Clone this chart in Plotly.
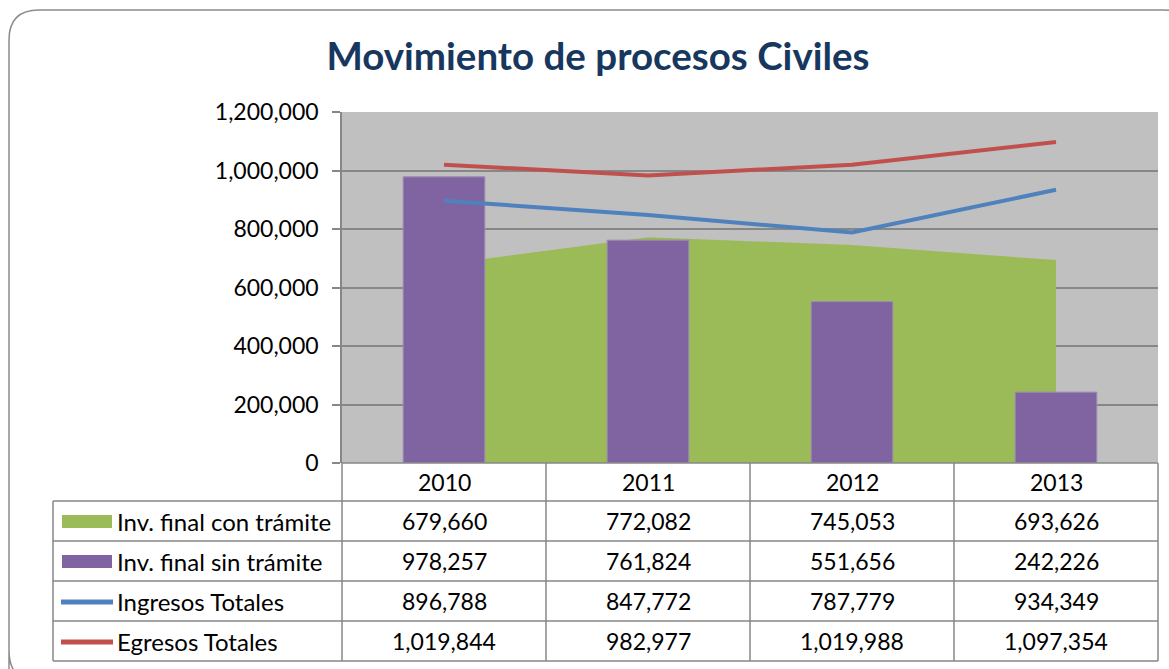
import plotly.graph_objects as go

years = ["2010", "2011", "2012", "2013"]
series_names = ["Inv. final con trámite", "Inv. final sin trámite", "Ingresos Totales", "Egresos Totales"]
inv_con_tramite = [679660, 772082, 745053, 693626]
inv_sin_tramite = [978257, 761824, 551656, 242226]
ingresos_totales = [896788, 847772, 787779, 934349]
egresos_totales = [1019844, 982977, 1019988, 1097354]
y_ticks = [0, 200000, 400000, 600000, 800000, 1000000, 1200000]

GREEN = "#9BBB59"
PURPLE = "#8064A2"
BLUE = "#4F81BD"
RED = "#C0504D"
GRID = "#878787"
FONT = "Lato"

# plot area in pixels
X0, X1 = 342, 1158
YT, YB = 112, 463
W, H = X1 - X0, YB - YT


def fx(px):
    return (px - X0) / W


def fy(py):
    return (YB - py) / H


fig = go.Figure()

# area (base subplot)
fig.add_trace(go.Scatter(x=years, y=inv_con_tramite, mode="none", fill="tozeroy",
                         fillcolor=GREEN, name=series_names[0], hoverinfo="skip",
                         xaxis="x", yaxis="y"))
# bars (overlay 1)
fig.add_trace(go.Bar(x=years, y=inv_sin_tramite, width=0.4, marker_color=PURPLE,
                     marker_line=dict(color="#9A8AAE", width=1),
                     name=series_names[1], hoverinfo="skip", xaxis="x2", yaxis="y2"))
# lines (overlay 2)
fig.add_trace(go.Scatter(x=years, y=ingresos_totales, mode="lines",
                         line=dict(color=BLUE, width=4), name=series_names[2],
                         hoverinfo="skip", xaxis="x3", yaxis="y3"))
fig.add_trace(go.Scatter(x=years, y=egresos_totales, mode="lines",
                         line=dict(color=RED, width=4), name=series_names[3],
                         hoverinfo="skip", xaxis="x3", yaxis="y3"))

xcommon = dict(type="category", categoryorder="array", categoryarray=years,
               range=[-0.5, 3.5], showticklabels=False, showgrid=False,
               zeroline=False, showline=False, fixedrange=True)
ycommon = dict(range=[0, 1200000], fixedrange=True, zeroline=False)

fig.update_layout(
    width=1169, height=669,
    margin=dict(l=X0, r=1169 - X1, t=YT, b=669 - YB, autoexpand=False),
    paper_bgcolor="white",
    plot_bgcolor="#C0C0C0",
    showlegend=False,
    font=dict(family=FONT, color="black", size=23),
    xaxis=xcommon,
    xaxis2=dict(**xcommon, overlaying="x", matches="x"),
    xaxis3=dict(**xcommon, overlaying="x", matches="x"),
    yaxis=dict(**ycommon, tickvals=y_ticks,
               ticktext=[f"{v:,}" for v in y_ticks],
               showgrid=True, gridcolor=GRID, gridwidth=1.5,
               showline=True, linecolor=GRID, linewidth=1.5,
               ticks="outside", ticklen=8, tickcolor=GRID, tickwidth=1.5,
               ticklabelstandoff=9,
               tickfont=dict(family=FONT, size=23, color="black")),
    yaxis2=dict(**ycommon, overlaying="y", showgrid=False, showticklabels=False, showline=False),
    yaxis3=dict(**ycommon, overlaying="y", showgrid=False, showticklabels=False, showline=False),
    title=dict(text="<b>Movimiento de procesos Civiles</b>", xref="container", yref="container",
               x=598 / 1169, y=1 - 57 / 669, xanchor="center", yanchor="middle",
               font=dict(family=FONT, size=38.5, color="#17375E")),
)

shapes = []
# outer rounded border
path = (f"M {fx(9)},{fy(700)} L {fx(9)},{fy(40)} Q {fx(9)},{fy(10)} {fx(39)},{fy(10)} "
        f"L {fx(1163)},{fy(10)} Q {fx(1193)},{fy(10)} {fx(1193)},{fy(40)} "
        f"L {fx(1193)},{fy(650)} Q {fx(1193)},{fy(682)} {fx(1163)},{fy(682)} "
        f"L {fx(39)},{fy(682)} Q {fx(9)},{fy(682)} {fx(9)},{fy(650)} Z")
shapes.append(dict(type="path", xref="paper", yref="paper", path=path,
                   line=dict(color="#8C8C8C", width=1.5), layer="below"))

line_style = dict(color=GRID, width=1.5)
row_edges = [501, 541, 581, 621, 661]
# horizontal lines of the data table
shapes.append(dict(type="line", xref="paper", yref="paper", x0=fx(X0), x1=fx(X1),
                   y0=fy(YB), y1=fy(YB), line=line_style))
for ry in row_edges:
    shapes.append(dict(type="line", xref="paper", yref="paper", x0=fx(53), x1=fx(X1),
                       y0=fy(ry), y1=fy(ry), line=line_style))
# vertical lines
shapes.append(dict(type="line", xref="paper", yref="paper", x0=fx(53), x1=fx(53),
                   y0=fy(501), y1=fy(661), line=line_style))
col_w = W / len(years)
for i in range(len(years) + 1):
    vx = X0 + i * col_w
    shapes.append(dict(type="line", xref="paper", yref="paper", x0=fx(vx), x1=fx(vx),
                       y0=fy(YB), y1=fy(661), line=line_style))

# legend keys
row_centers = [521, 561, 601, 641]
shapes.append(dict(type="rect", xref="paper", yref="paper", x0=fx(62), x1=fx(112),
                   y0=fy(515), y1=fy(528), fillcolor=GREEN, line=dict(width=0)))
shapes.append(dict(type="rect", xref="paper", yref="paper", x0=fx(62), x1=fx(112),
                   y0=fy(555), y1=fy(568), fillcolor=PURPLE, line=dict(width=0)))
shapes.append(dict(type="line", xref="paper", yref="paper", x0=fx(61), x1=fx(113),
                   y0=fy(602), y1=fy(602), line=dict(color=BLUE, width=5)))
shapes.append(dict(type="line", xref="paper", yref="paper", x0=fx(61), x1=fx(113),
                   y0=fy(642), y1=fy(642), line=dict(color=RED, width=5)))
fig.update_layout(shapes=shapes)

annotations = []
for j, yr in enumerate(years):
    annotations.append(dict(x=fx(X0 + (j + 0.5) * col_w), xref="paper", y=fy(482), yref="paper",
                            text=yr, showarrow=False, xanchor="center", yanchor="middle",
                            font=dict(family=FONT, size=23, color="black")))
table_rows = [inv_con_tramite, inv_sin_tramite, ingresos_totales, egresos_totales]
for r, (name, vals) in enumerate(zip(series_names, table_rows)):
    annotations.append(dict(x=fx(115), xref="paper", y=fy(row_centers[r]), yref="paper",
                            text=name, showarrow=False, xanchor="left", yanchor="middle",
                            font=dict(family=FONT, size=24, color="black")))
    for j in range(len(years)):
        annotations.append(dict(x=fx(X0 + (j + 0.5) * col_w), xref="paper",
                                y=fy(row_centers[r]), yref="paper",
                                text=f"{vals[j]:,}", showarrow=False,
                                xanchor="center", yanchor="middle",
                                font=dict(family=FONT, size=23, color="black")))
fig.update_layout(annotations=annotations)

fig.write_html("out.html", config={"displayModeBar": False})

# remove the default page margin so the figure sits at the window origin
with open("out.html", "r", encoding="utf-8") as f:
    html = f.read()
html = html.replace("<head>", "<head><style>html,body{margin:0;padding:0;overflow:hidden;}</style>", 1)
with open("out.html", "w", encoding="utf-8") as f:
    f.write(html)
